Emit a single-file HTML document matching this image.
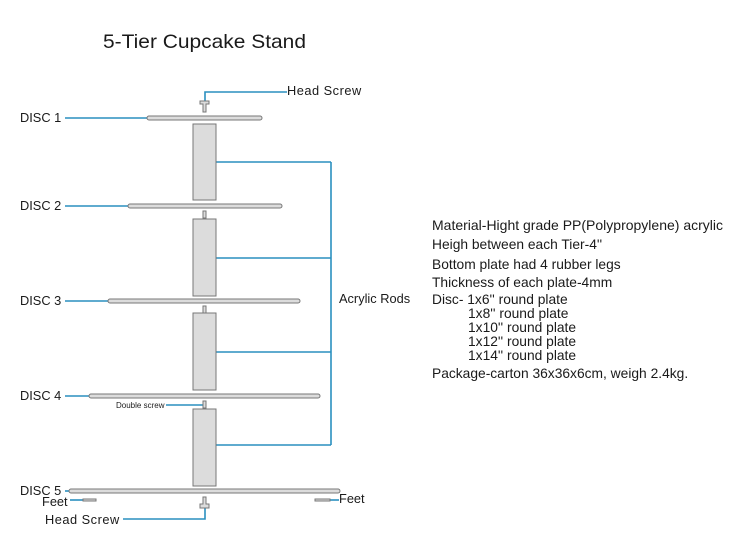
<!DOCTYPE html>
<html><head><meta charset="utf-8"><style>
html,body{margin:0;padding:0;background:#fff;}
svg{display:block;}
text{font-family:"Liberation Sans",Arial,sans-serif;fill:#1a1a1a;}
</style></head><body>
<svg width="750" height="560" viewBox="0 0 750 560" xmlns="http://www.w3.org/2000/svg">
<rect width="750" height="560" fill="#fff"/>
<text x="103" y="48" font-size="19.5" textLength="203" lengthAdjust="spacingAndGlyphs">5-Tier Cupcake Stand</text>

<g stroke="#2a8fbf" stroke-width="1.6" fill="none">
  <line x1="65" y1="118" x2="147" y2="118"/>
  <line x1="65" y1="206" x2="128" y2="206"/>
  <line x1="65" y1="301" x2="108" y2="301"/>
  <line x1="65" y1="396" x2="89" y2="396"/>
  <line x1="65" y1="491" x2="70" y2="491"/>
  <line x1="216" y1="162" x2="331" y2="162"/>
  <line x1="216" y1="258" x2="331" y2="258"/>
  <line x1="216" y1="352" x2="331" y2="352"/>
  <line x1="216" y1="445" x2="331" y2="445"/>
  <line x1="331" y1="162" x2="331" y2="445"/>
  <polyline points="205,101 205,92 287,92"/>
  <polyline points="205,508 205,519 123,519"/>
  <line x1="166" y1="405" x2="203" y2="405"/>
  <line x1="70" y1="500" x2="83" y2="500"/>
  <line x1="330" y1="500" x2="339" y2="500"/>
</g>

<g fill="#dcdcdc" stroke="#777" stroke-width="1">
  <rect x="147" y="116" width="115" height="4" rx="2"/>
  <rect x="128" y="204" width="154" height="4" rx="2"/>
  <rect x="108" y="299" width="192" height="4" rx="2"/>
  <rect x="89" y="394" width="231" height="4" rx="2"/>
  <rect x="69" y="489" width="271" height="4" rx="2"/>
  <rect x="193" y="124" width="23" height="76"/>
  <rect x="193" y="219" width="23" height="77"/>
  <rect x="193" y="313" width="23" height="77"/>
  <rect x="193" y="409" width="23" height="77"/>
  <rect x="203" y="211" width="3" height="7"/>
  <rect x="203" y="306" width="3" height="7"/>
  <rect x="203" y="401" width="3" height="7"/>
  <path d="M200 101 h9 v3 h-3 v8 h-3 v-8 h-3z"/>
  <path d="M203 497 h3 v7 h3 v4 h-9 v-4 h3z"/>
  <rect x="83" y="499" width="13" height="2"/>
  <rect x="315" y="499" width="15" height="2"/>
</g>

<g font-size="12.8">
  <text x="20" y="122">DISC 1</text>
  <text x="20" y="210">DISC 2</text>
  <text x="20" y="305">DISC 3</text>
  <text x="20" y="400">DISC 4</text>
  <text x="20" y="495">DISC 5</text>
  <text x="42" y="506">Feet</text>
  <text x="339" y="503">Feet</text>
  <text x="287" y="95" letter-spacing="0.5">Head  Screw</text>
  <text x="45" y="524" letter-spacing="0.5">Head  Screw</text>
  <text x="339" y="303">Acrylic Rods</text>
</g>
<text x="116" y="408" font-size="8">Double screw</text>

<g font-size="13.8">
  <text x="432" y="230" textLength="291" lengthAdjust="spacingAndGlyphs">Material-Hight grade PP(Polypropylene) acrylic</text>
  <text x="432" y="249">Heigh between each Tier-4''</text>
  <text x="432" y="269">Bottom plate had 4 rubber legs</text>
  <text x="432" y="287">Thickness of each plate-4mm</text>
  <text x="432" y="304">Disc- 1x6'' round plate</text>
  <text x="468" y="318">1x8'' round plate</text>
  <text x="468" y="332">1x10'' round plate</text>
  <text x="468" y="346">1x12'' round plate</text>
  <text x="468" y="360">1x14'' round plate</text>
  <text x="432" y="378">Package-carton 36x36x6cm, weigh 2.4kg.</text>
</g>
</svg>
</body></html>
